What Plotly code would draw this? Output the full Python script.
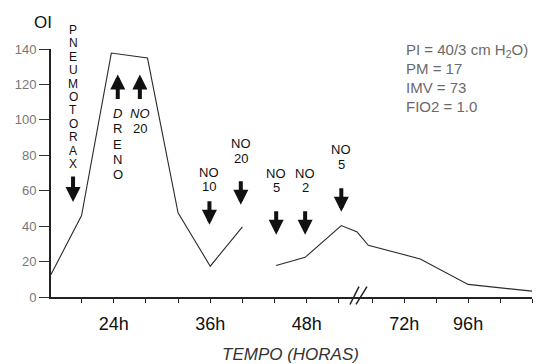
import plotly.graph_objects as go

# ---------------- data ----------------
hours = [16.2, 20.0, 23.7, 28.2, 32.0, 36.0, 40.0, None, 44.2, 47.8, 52.3, 58.5, 78.0, 96.0, 120.0]
oi = [12.7, 46.0, 137.7, 134.9, 47.5, 17.4, 39.6, None, 17.8, 22.4, 40.3, 29.2, 21.5, 7.1, 3.3]

y_ticks = [0, 20, 40, 60, 80, 100, 120, 140]
x1_minor = [20, 24, 28, 32, 36, 40, 44, 48, 52]
x1_ticks = [24, 36, 48]
x1_labels = ["24h", "36h", "48h"]
x2_minor = [60, 72, 84, 96, 108, 120]
x2_ticks = [72, 96]
x2_labels = ["72h", "96h"]

event_hours = [35.9, 39.8, 44.2, 47.8, 52.3]
event_labels = [["NO", "10"], ["NO", "20"], ["NO", "5"], ["NO", "2"], ["NO", "5"]]

pneumo_hour = 18.94
pneumo_word = "PNEUMOTORAX"
dreno_hour = 24.5
dreno_letters = ["<i>D</i>", "R", "E", "N", "O"]
no20_hour = 27.25
no20_lines = ["<i>NO</i>", "20"]

vent_lines = ["PI = 40/3 cm H<sub>2</sub>O)", "PM = 17", "IMV = 73", "FIO2 = 1.0"]

# ---------------- layout geometry ----------------
W, H = 538, 364
L, R, T, B = 51, 532, 48.5, 297.5
BREAK_H = 54.25
X1_MIN, X2_MAX = 16.2, 120
split = (357 - L) / (R - L)

def px_x(p):
    return (p - L) / (R - L)

def px_y(p):
    return (B - p) / (B - T)

FONT = "Liberation Sans, Arial, sans-serif"

fig = go.Figure()
line_style = dict(color="#2a2a2a", width=1.1)
fig.add_trace(go.Scatter(x=hours[:12], y=oi[:12], xaxis="x", yaxis="y", mode="lines",
                         line=line_style, connectgaps=False, hoverinfo="skip", showlegend=False))
fig.add_trace(go.Scatter(x=hours[10:], y=oi[10:], xaxis="x2", yaxis="y", mode="lines",
                         line=line_style, connectgaps=False, hoverinfo="skip", showlegend=False))

def xaxis_cfg(domain, rng, major, labels, minor):
    return dict(domain=domain, range=rng, tickmode="array", tickvals=major, ticktext=labels,
                ticks="outside", ticklen=4, tickwidth=1.2, tickcolor="#222",
                minor=dict(tickmode="array", tickvals=minor, ticks="outside", ticklen=4,
                           tickwidth=1.2, tickcolor="#222", showgrid=False),
                showline=True, linecolor="#222", linewidth=2, showgrid=False, zeroline=False,
                tickfont=dict(family=FONT, size=18, color="#111"), ticklabelstandoff=5,
                anchor="y")

fig.update_layout(
    width=W, height=H,
    margin=dict(l=L, r=W - R, t=T, b=H - B, pad=0),
    paper_bgcolor="white", plot_bgcolor="white",
    xaxis=xaxis_cfg([0, split], [X1_MIN, BREAK_H], x1_ticks, x1_labels, x1_minor),
    xaxis2=xaxis_cfg([split, 1], [BREAK_H, X2_MAX], x2_ticks, x2_labels, x2_minor),
    yaxis=dict(range=[0, 140], tickvals=y_ticks, ticks="outside", ticklen=10, tickwidth=1.3,
               tickcolor="#333", showline=True, linecolor="#222", linewidth=2, showgrid=False,
               zeroline=False, tickfont=dict(family=FONT, size=13, color="#777"), anchor="x"),
)

ann = []

def text_at(xval, ypx, text, size=13, color="#111", xref="paper", xanchor="center"):
    ann.append(dict(x=xval, y=px_y(ypx), xref=xref, yref="paper", text=text,
                    showarrow=False, xanchor=xanchor, yanchor="middle",
                    font=dict(family=FONT, size=size, color=color)))

def stack(xval, xref, lines, first_px, spacing, size=13):
    for i, s in enumerate(lines):
        text_at(xval, first_px + i * spacing, s, size=size, xref=xref)

def arrow(xval, xref, tip_px, tail_px):
    ann.append(dict(x=xval, y=px_y(tip_px), xref=xref, yref="paper", text="",
                    showarrow=True, ax=0, ay=tail_px - tip_px, arrowhead=2, arrowsize=0.75,
                    arrowwidth=4, arrowcolor="#111", standoff=0, startstandoff=0))

# axis titles
text_at(px_x(42.5), 22, "OI", size=17, color="#111")
text_at(px_x(290), 355, "<i>TEMPO (HORAS)</i>", size=17, color="#333")

# ventilation settings
for s, ypx in zip(vent_lines, [50, 68.5, 87.5, 106.5]):
    text_at(px_x(404), ypx, s, size=15, color="#6a6a6a", xanchor="left")

# pneumotorax
stack(pneumo_hour, "x", list(pneumo_word), 29.3, 13.47, size=12)
arrow(pneumo_hour, "x", 202, 175)

# dreno and NO 20 (up arrows)
stack(dreno_hour, "x", dreno_letters, 113, 15.5, size=13)
arrow(dreno_hour, "x", 74, 100)
stack(no20_hour, "x", no20_lines, 113, 15, size=13)
arrow(no20_hour, "x", 74, 100)

# NO events (down arrows)
text_tops = [172, 143, 173, 173, 149]
tips = [225, 205, 235, 235, 212]
for h, lab, ty, tip in zip(event_hours, event_labels, text_tops, tips):
    stack(h, "x", lab, ty, 15, size=13)
    arrow(h, "x", tip, tip - 25)

fig.update_layout(annotations=ann)

# axis break mark
for (x0, y0, x1, y1) in [(350, 305, 359, 287), (356, 305, 367, 287)]:
    fig.add_shape(type="line", xref="paper", yref="paper",
                  x0=px_x(x0), y0=px_y(y0), x1=px_x(x1), y1=px_y(y1),
                  line=dict(color="#222", width=1.5))

fig.write_html("out.html")
